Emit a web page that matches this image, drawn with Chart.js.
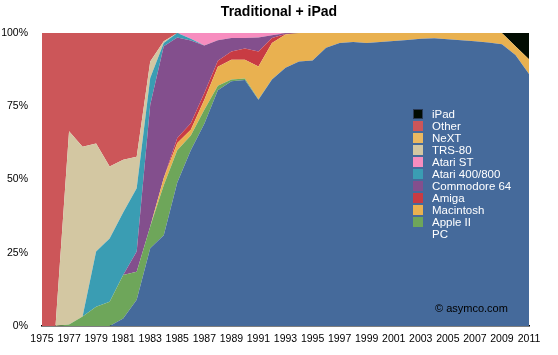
<!DOCTYPE html>
<html>
<head>
<meta charset="utf-8">
<script src="https://cdn.jsdelivr.net/npm/chart.js@4/dist/chart.umd.min.js"></script>
<style>
html,body{margin:0;padding:0;background:#fff;}
#wrap{width:558px;height:355px;}
</style>
</head>
<body>
<div id="wrap"><canvas id="c" width="558" height="355"></canvas></div>
<script>
const years = ["1975","1976","1977","1978","1979","1980","1981","1982","1983","1984","1985","1986","1987","1988","1989","1990","1991","1992","1993","1994","1995","1996","1997","1998","1999","2000","2001","2002","2003","2004","2005","2006","2007","2008","2009","2010","2011"];

const pc       = [0,0,0,0,0,0,2.6,9,26.5,31,49,60,69,80.5,83.5,84,77.2,84.1,88.1,90.3,90.6,95,96.6,96.9,96.6,96.9,97.3,97.6,98,98.2,97.9,97.5,97.2,96.8,96.2,92.5,86];
const appleII  = [0,0,0.5,3.2,6.6,8.3,14.8,9.5,7.5,17,11,5,4.8,1.5,0.6,0.5,0.2,0.1,0,0,0,0,0,0,0,0,0,0,0,0,0,0,0,0,0,0,0];
const mac      = [0,0,0,0,0,0,0,0,0,2.5,2.5,2,3.4,6.5,6.8,6.4,11.2,12.4,11.4,9.7,9.4,5,3.4,3.1,3.4,3.1,2.7,2.4,2,1.8,2.1,2.5,2.8,3.2,3.8,3,5];
const amiga    = [0,0,0,0,0,0,0,0,0,0,1.7,2.2,2.3,2,2.8,3.8,5.1,1.7,0.2,0,0,0,0,0,0,0,0,0,0,0,0,0,0,0,0,0,0];
const c64      = [0,0,0,0,0,0,0,6.9,41.5,45,34.3,28.2,16.2,7,4.6,3.6,4.8,0.9,0.2,0,0,0,0,0,0,0,0,0,0,0,0,0,0,0,0,0,0];
const atari8   = [0,0,0,0,18.8,21.6,21.3,21.6,9.1,1.1,1.5,0.6,0,0,0,0,0,0,0,0,0,0,0,0,0,0,0,0,0,0,0,0,0,0,0,0,0];
const atariST  = [0,0,0,0,0,0,0,0,0,0,0,2,4.3,2.5,1.7,1.7,1.5,0.8,0.1,0,0,0,0,0,0,0,0,0,0,0,0,0,0,0,0,0,0];
const trs80    = [0,0,66,58,36.9,24.5,18,10.8,5.7,0.6,0,0,0,0,0,0,0,0,0,0,0,0,0,0,0,0,0,0,0,0,0,0,0,0,0,0,0];
const next     = [0,0,0,0,0,0,0,0,0,0,0,0,0,0,0,0,0,0,0,0,0,0,0,0,0,0,0,0,0,0,0,0,0,0,0,0,0];
const other    = [100,100,33.5,38.8,37.7,45.6,43.3,42.2,9.7,2.8,0,0,0,0,0,0,0,0,0,0,0,0,0,0,0,0,0,0,0,0,0,0,0,0,0,0,0];
const ipad     = [0,0,0,0,0,0,0,0,0,0,0,0,0,0,0,0,0,0,0,0,0,0,0,0,0,0,0,0,0,0,0,0,0,0,0,4.5,9];
const yTicks   = [0,25,50,75,100];

const series = [
  {label:"PC", data:pc, color:"#456a9b"},
  {label:"Apple II", data:appleII, color:"#6ea65a"},
  {label:"Macintosh", data:mac, color:"#e9b150"},
  {label:"Amiga", data:amiga, color:"#c83b43"},
  {label:"Commodore 64", data:c64, color:"#834f8d"},
  {label:"Atari 400/800", data:atari8, color:"#3a9db3"},
  {label:"Atari ST", data:atariST, color:"#f78dbf"},
  {label:"TRS-80", data:trs80, color:"#d3c7a2"},
  {label:"NeXT", data:next, color:"#ebb860"},
  {label:"Other", data:other, color:"#cc5659"},
  {label:"iPad", data:ipad, color:"#020c02"}
];

const FONT = "'Liberation Sans', Arial, Helvetica, sans-serif";

const overlay = {
  id:'overlay',
  afterDraw(chart){
    const ctx = chart.ctx;
    ctx.save();
    // title
    ctx.fillStyle = '#000';
    ctx.font = "bold 14px " + FONT;
    ctx.textAlign = 'center';
    ctx.textBaseline = 'middle';
    ctx.fillText("Traditional + iPad", 279, 12);
    // legend
    const ds = chart.data.datasets.slice().reverse();
    ctx.font = "11.5px " + FONT;
    ctx.textAlign = 'left';
    let y = 114;
    ds.forEach(d => {
      ctx.fillStyle = d.backgroundColor;
      ctx.fillRect(413, y-5, 10, 10);
      if (d.label === 'iPad') { ctx.strokeStyle = '#2a3a55'; ctx.lineWidth = 1; ctx.strokeRect(413.5, y-4.5, 9, 9); }
      ctx.fillStyle = '#fff';
      ctx.fillText(d.label, 432, y+0.5);
      y += 12;
    });
    // copyright
    ctx.fillStyle = '#000';
    ctx.font = "11px " + FONT;
    ctx.fillText("\u00a9 asymco.com", 435, 309);
    ctx.restore();
  }
};

new Chart(document.getElementById('c'), {
  type:'line',
  data:{
    labels:years,
    datasets: series.map((s,i)=>({
      label:s.label,
      data:s.data,
      backgroundColor:s.color,
      borderColor:s.color,
      borderWidth:0,
      pointRadius:0,
      tension:0,
      fill: i===0 ? 'origin' : '-1'
    }))
  },
  options:{
    responsive:false,
    animation:false,
    devicePixelRatio:1,
    layout:{padding:{top:33,right:29,left:0,bottom:0}},
    plugins:{legend:{display:false}, title:{display:false}, tooltip:{enabled:false}},
    scales:{
      x:{
        offset:false,
        grid:{display:true, color:'rgba(0,0,0,0)', drawTicks:false},
        border:{display:true, color:'#000', width:1.5},
        ticks:{autoSkip:false, maxRotation:0, minRotation:0, padding:7, color:'#000',
          font:{family:FONT, size:10.5},
          callback:function(v,i){ return i%2===0 ? this.getLabelForValue(v) : ''; }},
        afterFit:(s)=>{ s.height = 29; }
      },
      y:{
        stacked:true, min:0, max:100,
        afterBuildTicks:(s)=>{ s.ticks = yTicks.map(v=>({value:v})); },
        grid:{display:true, drawTicks:false, color:(c)=> c.tick && c.tick.value===100 ? '#a09890' : 'rgba(0,0,0,0)'},
        border:{display:false},
        ticks:{padding:14, color:'#000', font:{family:FONT, size:10.5}, callback:(v)=>v+'%'},
        afterFit:(s)=>{ s.width = 42; }
      }
    }
  },
  plugins:[overlay]
});
</script>
</body>
</html>
